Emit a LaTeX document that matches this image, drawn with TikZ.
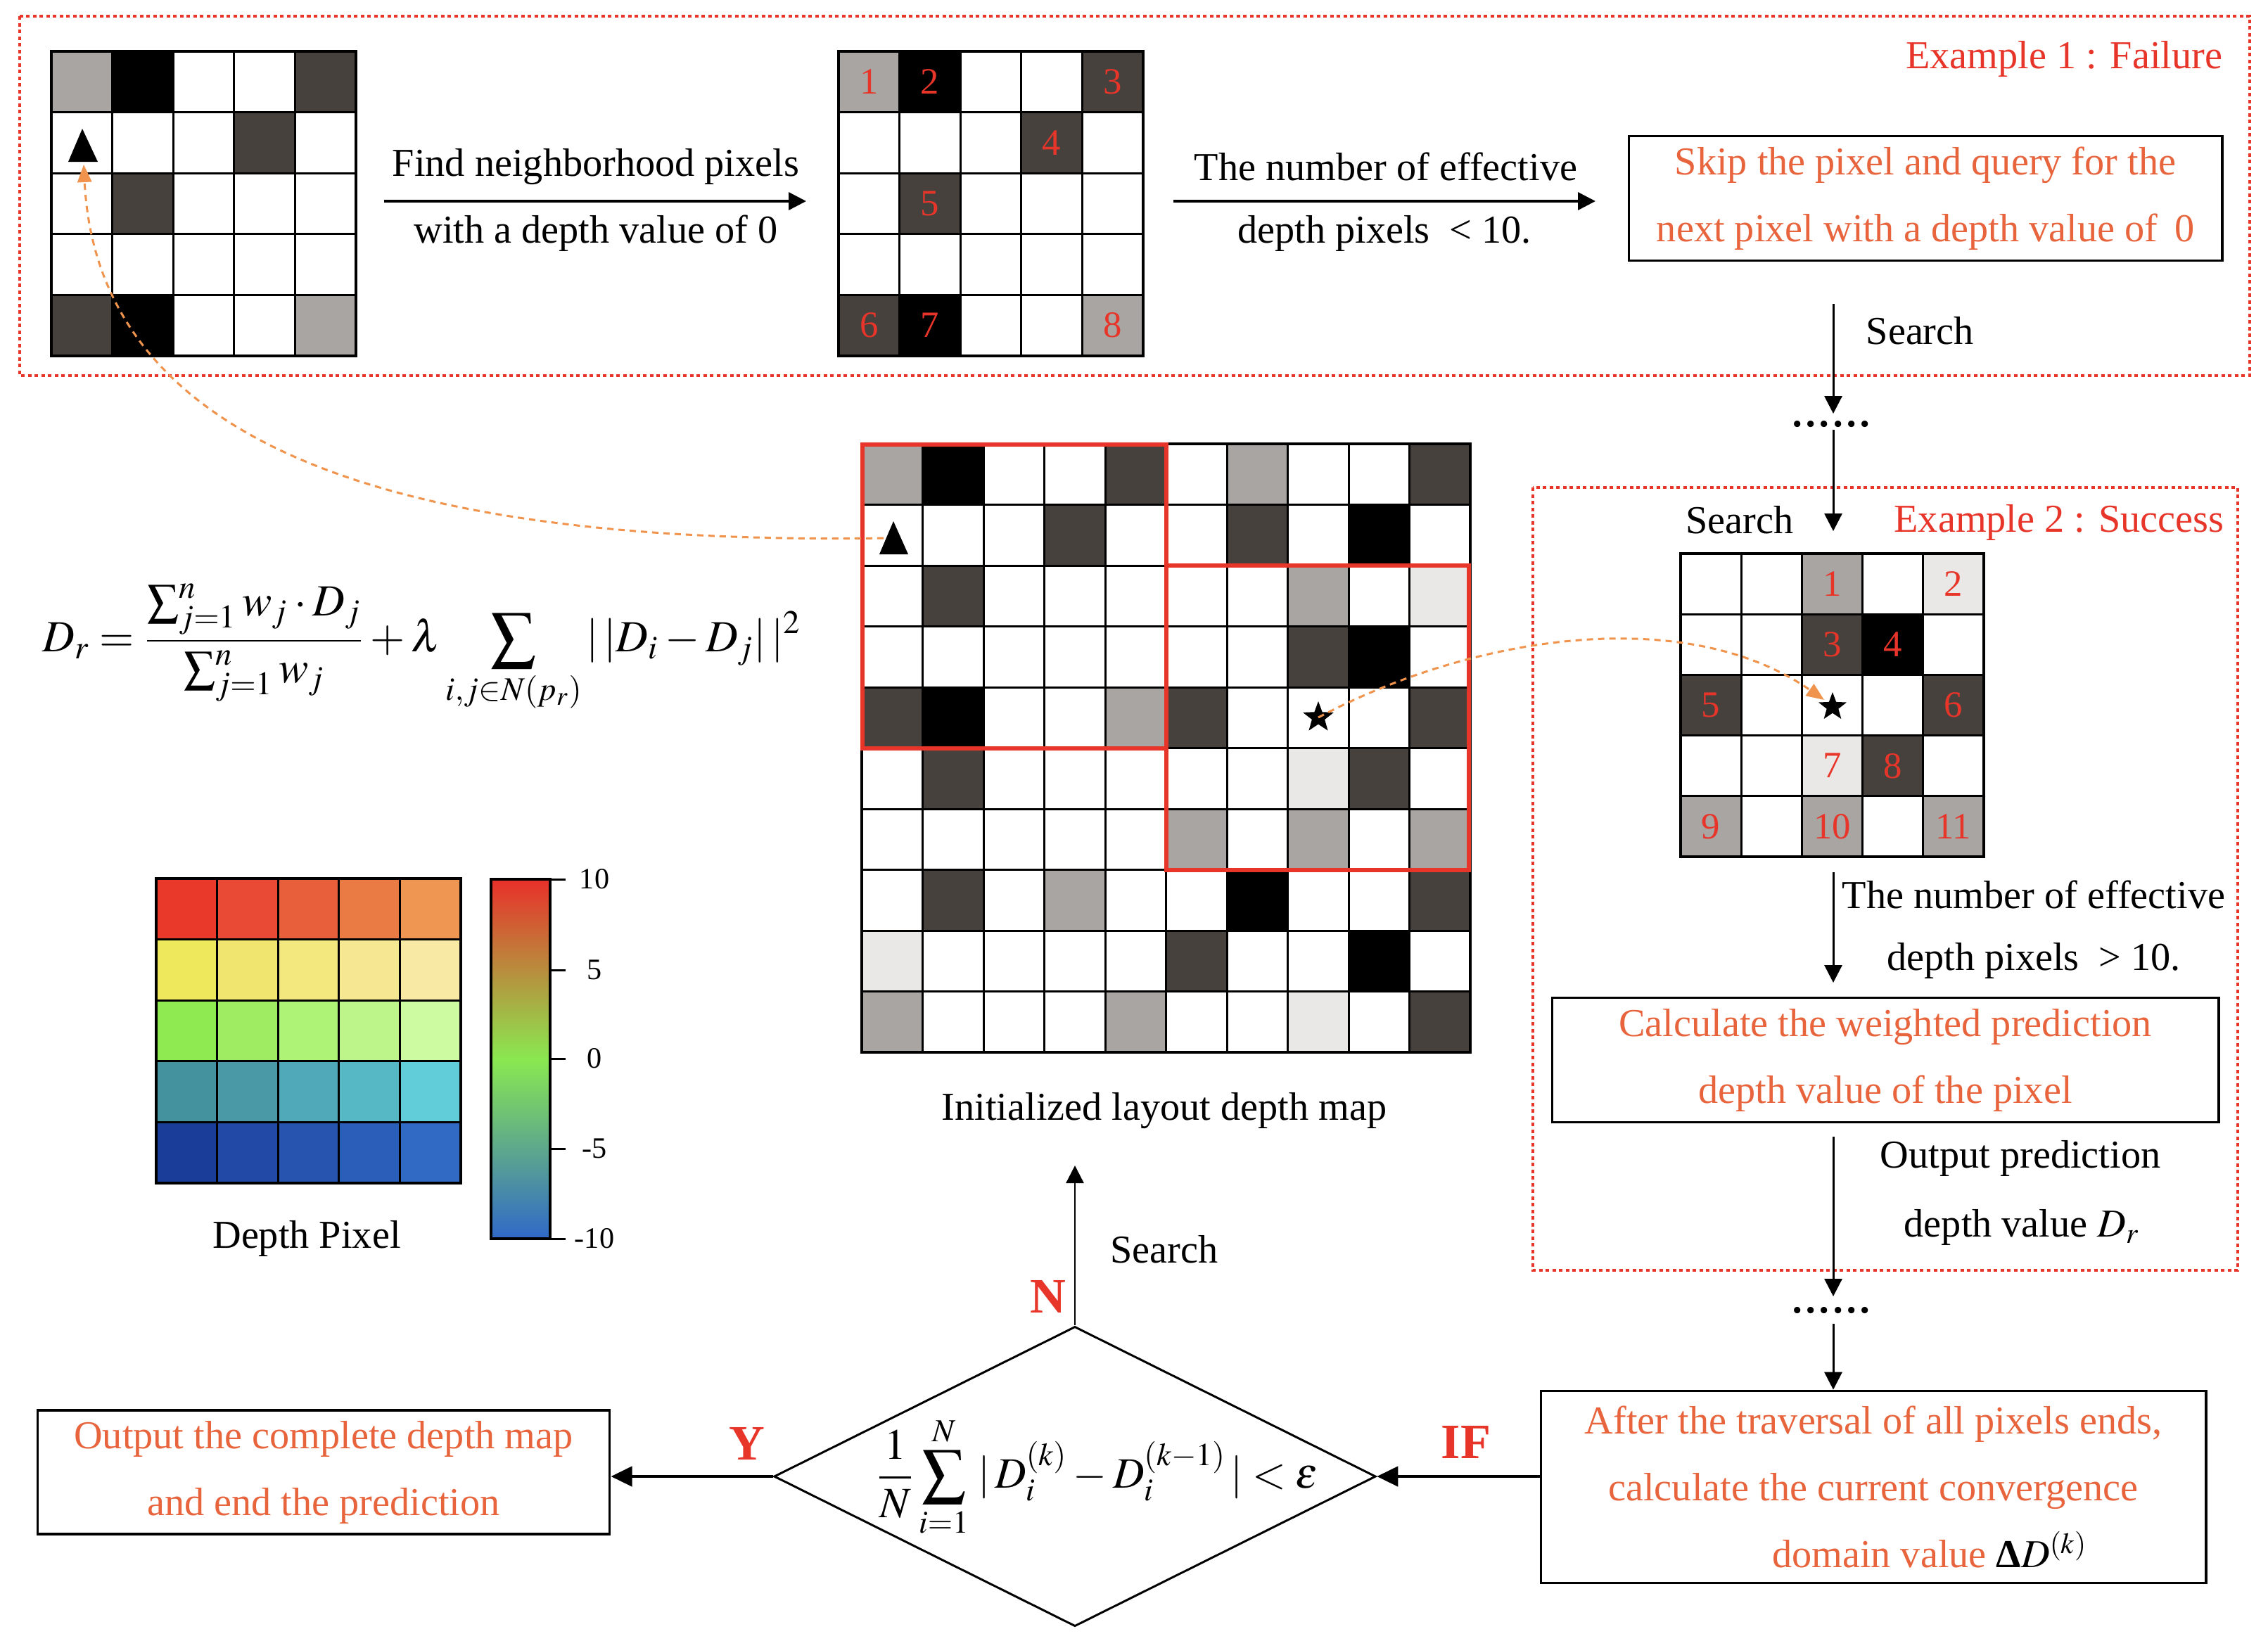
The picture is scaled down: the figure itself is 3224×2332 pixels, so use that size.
\documentclass[tikz,border=0pt]{standalone}
\usepackage{amsmath}
\usepackage{mathptmx}
\usepackage{fontspec}
\setmainfont{Liberation Serif}
\usetikzlibrary{arrows.meta,shapes.geometric}
\definecolor{pxw}{HTML}{FFFFFF}
\definecolor{pxl}{HTML}{A9A5A2}
\definecolor{pxd}{HTML}{47413E}
\definecolor{pxk}{HTML}{000000}
\definecolor{pxv}{HTML}{E9E8E6}
\definecolor{exred}{HTML}{E8352A}
\definecolor{txorange}{HTML}{E8643C}
\definecolor{curveor}{HTML}{F0934C}
\definecolor{cma1}{HTML}{E8392B}\definecolor{cma2}{HTML}{E84A35}\definecolor{cma3}{HTML}{E8603B}\definecolor{cma4}{HTML}{EB7B45}\definecolor{cma5}{HTML}{EE9652}
\definecolor{cmb1}{HTML}{EDE85C}\definecolor{cmb2}{HTML}{F0E56E}\definecolor{cmb3}{HTML}{F3E87E}\definecolor{cmb4}{HTML}{F6E792}\definecolor{cmb5}{HTML}{F8EAA5}
\definecolor{cmc1}{HTML}{8EEA50}\definecolor{cmc2}{HTML}{9FEC62}\definecolor{cmc3}{HTML}{AEF276}\definecolor{cmc4}{HTML}{BEF58A}\definecolor{cmc5}{HTML}{CDFBA1}
\definecolor{cmd1}{HTML}{44929D}\definecolor{cmd2}{HTML}{4999A6}\definecolor{cmd3}{HTML}{50A9B9}\definecolor{cmd4}{HTML}{56B8C5}\definecolor{cmd5}{HTML}{60CDD9}
\definecolor{cme1}{HTML}{1A3D99}\definecolor{cme2}{HTML}{2149A5}\definecolor{cme3}{HTML}{2654AF}\definecolor{cme4}{HTML}{2B5EB9}\definecolor{cme5}{HTML}{306AC4}
\definecolor{cbtop}{HTML}{E8302A}
\definecolor{cbmid}{HTML}{8AE850}
\definecolor{cbbot}{HTML}{3068C8}
% #1 prefix, #2 x0, #3 y0, #4 cell, #5 n, #6 rows
\newcommand\pixgrid[6]{%
  \foreach \rowlist [count=\gi from 0] in {#6} {
    \foreach \cc [count=\gj from 0] in \rowlist {
      \fill[fill=#1\cc] ({#2+\gj*#4},{#3+\gi*#4}) rectangle ++(#4,#4);
    }
  }
  \foreach \gk in {0,...,#5} {
    \draw[gridline] ({#2+\gk*#4},#3) -- ++(0,{#5*#4});
    \draw[gridline] (#2,{#3+\gk*#4}) -- ++({#5*#4},0);
  }
  \draw[gridline, line width=0.045cm] (#2,#3) rectangle ++({#5*#4},{#5*#4});
}
\begin{document}
\begin{tikzpicture}[x=0.01cm,y=-0.01cm,
  font=\fontsize{16}{19}\selectfont,
  gridline/.style={line width=0.03cm, draw=black},
  redframe/.style={draw=exred, line width=0.04cm, dash pattern=on 0.05cm off 0.045cm},
  txtbox/.style={draw, line width=0.035cm, text=txorange, align=center, inner sep=0, font=\fontsize{16}{27}\selectfont},
  arr/.style={line width=0.03cm, -{Triangle[length=0.25cm,width=0.25cm]}},
  thickarr/.style={line width=0.045cm, -{Triangle[length=0.3cm,width=0.28cm]}},
  curvearrow/.style={draw=curveor, line width=0.03cm, dash pattern=on 0.09cm off 0.07cm, -{Triangle[length=0.25cm,width=0.2cm]}},
  numlbl/.style={text=exred, font=\fontsize{15}{15}\selectfont, inner sep=0},
  exlbl/.style={text=exred, inner sep=0},
  yn/.style={text=exred, font=\fontsize{20}{20}\selectfont\bfseries, inner sep=0},
  lbl/.style={inner sep=0},
  starmark/.style={star, star points=5, star point ratio=2.4, fill=black, minimum size=0.46cm, inner sep=0}
]
\fill[white] (0,0) rectangle (3224,2332);
\useasboundingbox (0,0) rectangle (3224,2332);

% frames
\draw[redframe] (28,23) rectangle (3198,534);
\draw[redframe] (2179,693) rectangle (3181,1806);

% grid 1 and grid 2
\pixgrid{px}{73}{73}{86.6}{5}{{l,k,w,w,d},{w,w,w,d,w},{w,d,w,w,w},{w,w,w,w,w},{d,k,w,w,l}}
\pixgrid{px}{1192}{73}{86.6}{5}{{l,k,w,w,d},{w,w,w,d,w},{w,d,w,w,w},{w,w,w,w,w},{d,k,w,w,l}}
\foreach \n/\gi/\gj in {1/0/0,2/0/1,3/0/4,4/1/3,5/2/1,6/4/0,7/4/1,8/4/4}
  \node[numlbl] (ga\n) at ({1192+(\gj+0.5)*86.6},{73+(\gi+0.5)*86.6}) {\n};
\fill (117,183) -- (97,230) -- (139,230) -- cycle;
\coordinate (triB) at (119,234);

% big grid
\pixgrid{px}{1225}{631}{86.5}{10}{{l,k,w,w,d,w,l,w,w,d},{w,w,w,d,w,w,d,w,k,w},{w,d,w,w,w,w,w,l,w,v},{w,w,w,w,w,w,w,d,k,w},{d,k,w,w,l,d,w,w,w,d},{w,d,w,w,w,w,w,v,d,w},{w,w,w,w,w,l,w,l,w,l},{w,d,w,l,w,w,k,w,w,d},{v,w,w,w,w,d,w,w,k,w},{l,w,w,w,l,w,w,v,w,d}}
\draw[draw=exred, line width=0.06cm] (1226,632) rectangle (1657.5,1063.5);
\draw[draw=exred, line width=0.06cm] (1657.5,804) rectangle (2088,1236.5);
\fill (1270,741) -- (1250,788) -- (1291,788) -- cycle;
\coordinate (triA) at (1256,765);
\node[starmark] (starA) at (1874,1020) {};
\node[lbl] (initlbl) at (1655,1579) {Initialized layout depth map};

% grid 3
\pixgrid{px}{2389}{787}{86.2}{5}{{w,w,l,w,v},{w,w,d,k,w},{d,w,w,w,d},{w,w,v,d,w},{l,w,l,w,l}}
\foreach \n/\gi/\gj in {1/0/2,2/0/4,3/1/2,4/1/3,5/2/0,6/2/4,7/3/2,8/3/3,9/4/0,10/4/2,11/4/4}
  \node[numlbl] (gb\n) at ({2389+(\gj+0.5)*86.2},{787+(\gi+0.5)*86.2}) {\n};
\node[starmark, minimum size=0.42cm] (starB) at (2605,1005) {};
\coordinate (starBtip) at (2593,995);

% top row arrows and texts
\coordinate (a1s) at (546,286); \coordinate (a1e) at (1146,286);
\draw[arr, line width=0.035cm] (a1s) -- (a1e);
\node[lbl] (find1) at (847,237) {Find neighborhood pixels};
\node[lbl] (find2) at (847,332) {with a depth value of 0};
\coordinate (a2s) at (1668,286); \coordinate (a2e) at (2268,286);
\draw[arr, line width=0.035cm] (a2s) -- (a2e);
\node[lbl] (num1) at (1970,237) {The number of effective};
\node[lbl] (num2) at (1968,332) {depth pixels \ < 10.};
\node[txtbox, minimum width=8.43cm, minimum height=1.77cm] (skip) at (2737,282) {Skip the pixel and query for the\\next pixel with a depth value of \,0};
\node[exlbl, anchor=east] (ex1) at (3160,84) {Example 1 : Failure};

% right column
\coordinate (vA1) at (2606,432); \coordinate (vA2) at (2606,588);
\draw[arr] (vA1) -- (vA2);
\node[lbl, anchor=west] (search1) at (2652,470) {Search};
\node[lbl, anchor=base, font=\fontsize{22}{22}\selectfont] (dots1) at (2603,606) {......};
\coordinate (vB1) at (2606,611); \coordinate (vB2) at (2606,755);
\draw[arr] (vB1) -- (vB2);
\node[lbl, anchor=east] (search2) at (2550,739) {Search};
\node[exlbl, anchor=east] (ex2) at (3162,743) {Example 2 : Success};
\coordinate (vC1) at (2606,1240); \coordinate (vC2) at (2606,1397);
\draw[arr] (vC1) -- (vC2);
\node[lbl] (eff1) at (2891,1272) {The number of effective};
\node[lbl] (eff2) at (2891,1366) {depth pixels \ > 10.};
\node[txtbox, minimum width=9.47cm, minimum height=1.77cm] (calc) at (2680,1507) {Calculate the weighted prediction\\depth value of the pixel};
\coordinate (vD1) at (2606,1616); \coordinate (vD2) at (2606,1843);
\draw[arr] (vD1) -- (vD2);
\node[lbl] (outp1) at (2872,1647) {Output prediction};
\node[lbl] (outp2) at (2874,1745) {depth value $D_r$};
\node[lbl, anchor=base, font=\fontsize{22}{22}\selectfont] (dots2) at (2603,1866) {......};
\node[txtbox, minimum width=9.45cm, minimum height=2.73cm] (after) at (2663,2114) {After the traversal of all pixels ends,\\calculate the current convergence\\\hspace*{1.6cm}domain value \textcolor{black}{\textbf{Δ}$D^{(k)}$}};
\coordinate (vE1) at (2606,1882);
\draw[arr] (vE1) -- (vE1 |- after.north);

% diamond and bottom
\node[diamond, draw, line width=0.03cm, minimum width=8.55cm, minimum height=4.26cm, inner sep=0] (dia) at (1528,2099) {};
\node[lbl, font=\fontsize{17.5}{21}\selectfont] (cond) at (1560,2100) {$\displaystyle \frac{1}{N}\sum_{i=1}^{N}\,|\,D_i^{(k)}-D_i^{(k-1)}\,|<\epsilon$};
\draw[thickarr] (dia.east -| after.west) -- (dia.east);
\node[yn] (iflbl) at (2084,2050) {IF};
\node[txtbox, minimum width=8.13cm, minimum height=1.76cm] (outbox) at (460,2093) {Output the complete depth map\\and end the prediction};
\draw[thickarr] (dia.west) -- (dia.west -| outbox.east);
\node[yn] (ylbl) at (1062,2052) {Y};
\coordinate (upTip) at (1528,1657);
\draw[arr, line width=0.025cm] (dia.north) -- (upTip);
\node[yn] (nlbl) at (1490,1843) {N};
\node[lbl] (search3) at (1655,1776) {Search};

% formula
\node[lbl, font=\fontsize{18}{22}\selectfont] (formula) at (600,922) {$\displaystyle D_r=\frac{\sum_{j=1}^{n} w_j\cdot D_j}{\sum_{j=1}^{n} w_j}+\lambda\sum_{i,j\in N(p_r)}|\,|D_i-D_j|\,|^{2}$};

% colour map
\pixgrid{cm}{222}{1249}{86.6}{5}{{a1,a2,a3,a4,a5},{b1,b2,b3,b4,b5},{c1,c2,c3,c4,c5},{d1,d2,d3,d4,d5},{e1,e2,e3,e4,e5}}
\node[lbl] (dpix) at (436,1761) {Depth Pixel};
\node[draw, line width=0.035cm, minimum width=0.84cm, minimum height=5.11cm, inner sep=0, top color=cbtop, bottom color=cbbot, middle color=cbmid] (cbar) at (740,1505.5) {};
\foreach \ty/\tl in {1250/10,1379/5,1505/0,1633/-5,1761/-10} {
  \draw[line width=0.03cm] (cbar.east |- 0,\ty) -- ++(20,0);
  \node[lbl, font=\fontsize{12}{12}\selectfont] at (845,\ty) {\tl};
}

% orange dashed curves
\draw[curvearrow] (triA) .. controls (600,775) and (140,650) .. (triB);
\draw[curvearrow] (starA.center) .. controls (2100,900) and (2400,860) .. (starBtip);
\end{tikzpicture}
\end{document}
